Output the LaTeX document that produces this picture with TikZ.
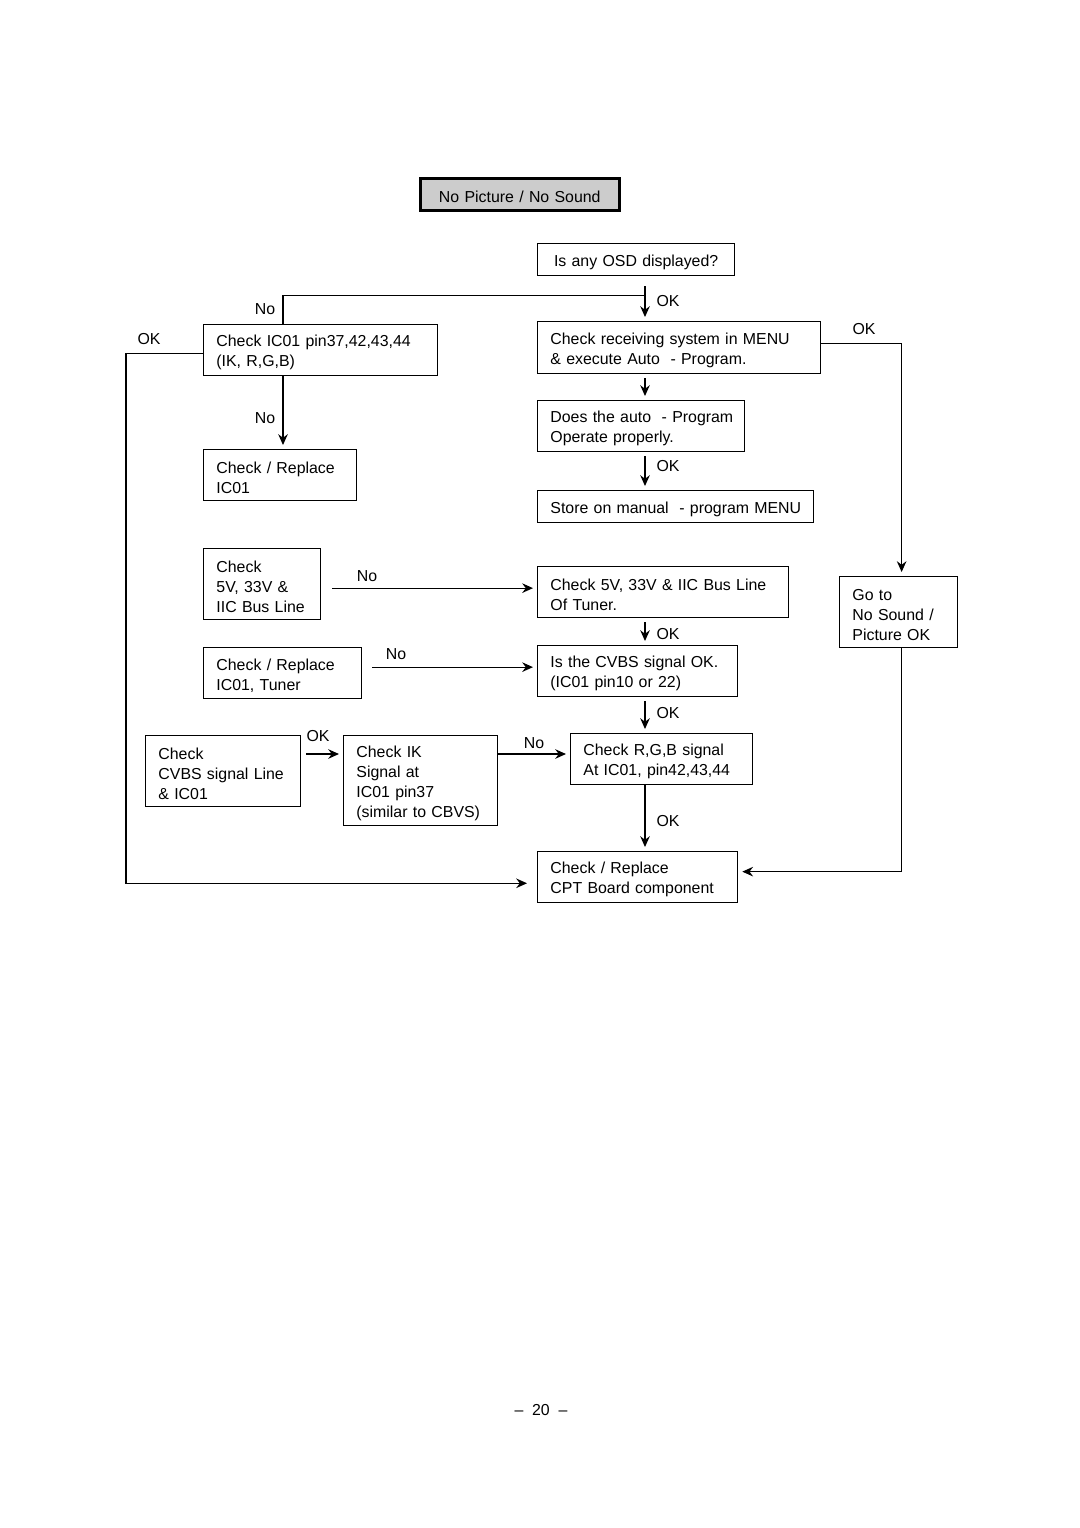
\documentclass[tikz,border=0pt]{standalone}
\usepackage{fontspec}
\setmainfont{Liberation Sans}
\usetikzlibrary{arrows.meta,calc}

\begin{document}
\begin{tikzpicture}[x=0.025cm,y=-0.025cm,
  every node/.style={font=\fontsize{11.3}{14.2}\selectfont},
  box/.style 2 args={draw,line width=0.9pt,anchor=north west,inner xsep=0.32cm,inner ysep=0pt,
    /utils/exec={\pgfmathsetlengthmacro\boxtw{#1*0.025cm-0.64cm}},text width=\boxtw,
    minimum width={#1*0.025cm},minimum height={#2*0.025cm},align=left,
    execute at begin node={\hyphenpenalty=10000\exhyphenpenalty=10000\rule{0pt}{11.8pt}}},
  arr/.style={line width=0.9pt,-{Stealth[length=0.27cm,width=0.24cm,inset=0.09cm]},shorten >=0.1cm},
  lnk/.style={line width=0.9pt},
  lbl/.style={inner sep=0pt}]
\useasboundingbox (0,0) rectangle (1080,1528);
%Блоки
\node[box={199}{32},fill=gray!40,line width=1.8pt,align=center] (start) at (419,177) {No Picture / No Sound};
\node[box={197}{32},align=center] (osd) at (537,243) {Is any OSD displayed?};
\node[box={283}{52}] (recv) at (537,321) {Check receiving system in MENU\\\& execute Auto~ - Program.};
\node[box={234}{51}] (ic01) at (203,324) {Check IC01 pin37,42,43,44\\(IK, R,G,B)};
\node[box={207}{51}] (auto) at (537,400) {Does~the~auto~~-~Program\\Operate properly.};
\node[box={153}{51}] (repl) at (203,449) {Check / Replace\\IC01};
\node[box={276}{32}] (store) at (537,490) {Store~on~manual~~-~program~MENU};
\node[box={117}{71}] (volt) at (203,548) {Check\\5V, 33V \&\\IIC Bus Line};
\node[box={251}{51}] (tuner) at (537,566) {Check~5V,~33V~\&~IIC~Bus~Line\\Of Tuner.};
\node[box={118}{71}] (goto) at (839,576) {Go to\\No Sound /\\Picture OK};
\node[box={158}{51}] (replt) at (203,647) {Check / Replace\\IC01, Tuner};
\node[box={200}{51}] (cvbs) at (537,645) {Is the CVBS signal OK.\\(IC01 pin10 or 22)};
\node[box={155}{71}] (cvbsl) at (145,735) {Check\\CVBS signal Line\\\& IC01};
\node[box={154}{90}] (ik) at (343,735) {Check IK\\Signal at\\IC01 pin37\\(similar~to~CBVS)};
\node[box={182}{51}] (rgb) at (570,733) {Check R,G,B signal\\At IC01, pin42,43,44};
\node[box={200}{51}] (cpt) at (537,851) {Check / Replace\\CPT Board component};
%Стрелки по главной линии
\coordinate (spine) at (645,0);
\draw[arr] ($(osd.south -| spine)+(0,10)$) -- (recv.north -| spine);
\draw[lnk] ($(osd.south -| spine)+(0,19)$) -| ($(ic01.north west)+(80,0)$);
\draw[arr] ($(recv.south -| spine)+(0,4)$) -- (auto.north -| spine);
\draw[arr] ($(auto.south -| spine)+(0,4)$) -- (store.north -| spine);
\draw[arr] ($(tuner.south -| spine)+(0,4)$) -- (cvbs.north -| spine);
\draw[arr] ($(cvbs.south -| spine)+(0,4)$) -- (rgb.north -| spine);
\draw[arr] (rgb.south -| spine) -- (cpt.north -| spine);
%Боковые ветви
\draw[arr] ($(recv.east)+(0,-4)$) -| ($(goto.north)+(3,0)$);
\draw[arr] ($(ic01.south west)+(80,0)$) -- ($(repl.north west)+(80,0)$);
\draw[arr] ($(ic01.west)+(0,3)$) -- ++(-77,0) |- ($(cpt.south west)+(-6,-20)$);
\draw[arr] ($(volt.east)+(11,4)$) coordinate (n1) -- (n1 -| tuner.west);
\draw[arr] ($(replt.east)+(10,-6)$) coordinate (n2) -- (n2 -| cvbs.west);
\draw[arr] ($(cvbsl.north east)+(5,19)$) coordinate (n3) -- (n3 -| ik.west);
\draw[arr] ($(ik.north east)+(0,19)$) coordinate (n4) -- (n4 -| rgb.west);
\draw[arr] ($(goto.south)+(3,0)$) |- ($(cpt.east)+(0,-5.5)$);
%Подписи
\node[lbl] (no1) at (265,309) {No};
\node[lbl] (no2) at (265,418) {No};
\node[lbl] (no3) at (367,576) {No};
\node[lbl] (no4) at (396,654) {No};
\node[lbl] (no5) at (534,743) {No};
\node[lbl] (ok1) at (668,301) {OK};
\node[lbl] (ok2) at (668,466) {OK};
\node[lbl] (ok3) at (668,634) {OK};
\node[lbl] (ok4) at (668,713) {OK};
\node[lbl] (ok5) at (668,821) {OK};
\node[lbl] (ok6) at (864,329) {OK};
\node[lbl] (ok7) at (149,339) {OK};
\node[lbl] (ok8) at (318,736) {OK};
\node[lbl] (pnum) at (541,1410) {--\ \ 20\ \ --};
\end{tikzpicture}
\end{document}
